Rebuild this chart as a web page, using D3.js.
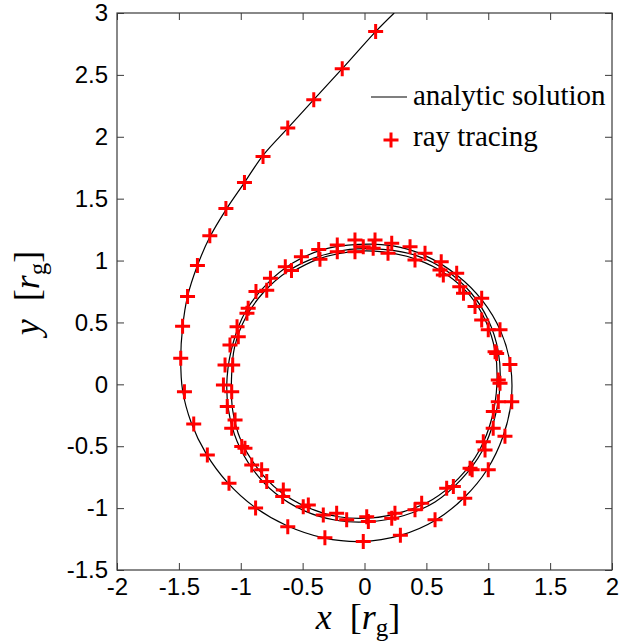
<!DOCTYPE html>
<html><head><meta charset="utf-8">
<script src="https://cdn.jsdelivr.net/npm/d3@7"></script>
<style>body{margin:0;background:#fff}</style>
</head><body>
<svg id="c" width="625" height="644"></svg>
<script>
const xTicks = [-2,-1.5,-1,-0.5,0,0.5,1,1.5,2];
const yTicks = [-1.5,-1,-0.5,0,0.5,1,1.5,2,2.5,3];
const xTickLabels = ["-2","-1.5","-1","-0.5","0","0.5","1","1.5","2"];
const yTickLabels = ["-1.5","-1","-0.5","0","0.5","1","1.5","2","2.5","3"];
const seriesNames = ["analytic solution","ray tracing"];

// analytic solution
const analyticX = [0.24,0.09,-0.18,-0.41,-0.62,-0.82,-0.97,-1.12,-1.25,-1.35,-1.43,-1.47,-1.485,-1.47,-1.40,-1.28,-1.11,-0.89,-0.63,-0.33,-0.02,0.29,0.57,0.81,0.99,1.12,1.185,1.18,1.10,0.95,0.75,0.49,0.22,-0.05,-0.33,-0.58,-0.79,-0.96,-1.06,-1.11,-1.10,-1.03,-0.90,-0.72,-0.49,-0.22,0.05,0.32,0.57,0.78,0.95,1.05,1.095,1.08,1.00,0.86,0.66,0.42,0.15,-0.12,-0.38,-0.61,-0.81,-0.96,-1.05,-1.075,-1.065,-1.00,-0.87,-0.69,-0.47,-0.21,0.05,0.31,0.55,0.76,0.93,1.03,1.07,1.055,0.98,0.85,0.66,0.42,0.15,-0.12,-0.38,-0.60];
const analyticY = [3.0,2.85,2.55,2.30,2.07,1.85,1.63,1.41,1.19,0.96,0.71,0.46,0.21,-0.05,-0.31,-0.56,-0.79,-0.99,-1.14,-1.24,-1.27,-1.22,-1.10,-0.91,-0.69,-0.42,-0.14,0.15,0.43,0.68,0.88,1.04,1.12,1.13,1.09,0.98,0.81,0.59,0.34,0.06,-0.20,-0.46,-0.69,-0.88,-1.02,-1.10,-1.11,-1.06,-0.95,-0.77,-0.54,-0.28,-0.01,0.27,0.52,0.74,0.92,1.04,1.09,1.09,1.03,0.92,0.75,0.54,0.30,0.04,-0.21,-0.45,-0.67,-0.86,-0.99,-1.07,-1.08,-1.03,-0.93,-0.76,-0.53,-0.27,0.0,0.27,0.51,0.72,0.89,1.01,1.07,1.07,1.01,0.90];

// ray tracing samples
const rayX = [0.09,-0.18,-0.41,-0.62,-0.82,-0.97,-1.12,-1.25,-1.35,-1.43,-1.47,-1.485,-1.455,-1.38,-1.27,-1.095,-0.88,-0.62,-0.32,-0.01,0.29,0.57,0.81,1.00,1.135,1.19,1.175,1.095,0.947,0.745,0.489,0.22,
  0.085,-0.077,-0.22,-0.37,-0.51,0.07,-0.01,0.368,-0.077,-0.22,0.19,0.408,-0.36,
  0.62,0.61,0.637,0.77,0.80,0.893,0.947,1.0,1.055,1.068,1.081,1.095,1.081,1.041,1.04,
  -0.64,-0.59,-0.76,-0.79,-0.877,-0.94,-0.95,-1.03,-1.02,-1.087,-1.127,-1.065,-1.14,-1.073,-1.109,-1.046,-1.073,
  -0.992,-0.966,-0.911,-0.831,-0.79,-0.656,-0.661,-0.495,-0.454,-0.333,-0.225,-0.144,0.018,0.031,
  0.22,0.246,0.408,0.462,0.664,0.718,0.853,0.87,0.974,0.96];
const rayY = [2.85,2.55,2.30,2.07,1.84,1.63,1.42,1.20,0.96,0.71,0.47,0.21,-0.06,-0.32,-0.57,-0.80,-1.00,-1.15,-1.24,-1.27,-1.22,-1.095,-0.92,-0.69,-0.42,-0.14,0.16,0.44,0.695,0.897,1.059,1.14,
  1.166,1.166,1.126,1.09,1.03,1.10,1.112,1.112,1.072,1.072,1.06,1.005,1.01,
  0.99,0.924,0.884,0.789,0.736,0.628,0.52,0.44,0.264,0.25,0.035,0.009,-0.14,-0.22,-0.355,
  0.95,0.92,0.857,0.76,0.75,0.615,0.574,0.466,0.385,0.318,0.157,0.157,-0.005,-0.059,-0.18,-0.288,-0.355,
  -0.503,-0.516,-0.651,-0.691,-0.786,-0.853,-0.907,-0.988,-0.974,-1.055,-1.041,-1.095,-1.069,-1.109,
  -1.082,-1.041,-1.014,-0.96,-0.839,-0.826,-0.678,-0.69,-0.53,-0.463];

const svg = d3.select("#c");
const L = 117, R = 612, T = 13, B = 570;
const x = d3.scaleLinear().domain([-2, 2]).range([L, R]);
const y = d3.scaleLinear().domain([-1.5, 3]).range([B, T]);
const axisColor = "#3a3a3a";
const tickFont = "'Liberation Sans', Arial, Helvetica, sans-serif";
const serif = "'Liberation Serif', 'Times New Roman', serif";

function styleAxis(g) {
  g.select(".domain").remove();
  g.selectAll(".tick line").attr("stroke", axisColor).attr("stroke-width", 1);
  g.selectAll(".tick text").attr("fill", "#000").style("font-family", tickFont).style("font-size", "24px");
}
svg.append("g").attr("transform", `translate(0,${B})`)
  .call(d3.axisBottom(x).tickValues(xTicks).tickSize(-7).tickPadding(8).tickFormat((d,i) => xTickLabels[i]))
  .call(styleAxis);
svg.append("g").attr("transform", `translate(0,${T})`)
  .call(d3.axisTop(x).tickValues(xTicks).tickSize(-7).tickFormat(""))
  .call(styleAxis);
svg.append("g").attr("transform", `translate(${L},0)`)
  .call(d3.axisLeft(y).tickValues(yTicks).tickSize(-7).tickPadding(9).tickFormat((d,i) => yTickLabels[i]))
  .call(styleAxis);
svg.append("g").attr("transform", `translate(${R},0)`)
  .call(d3.axisRight(y).tickValues(yTicks).tickSize(-7).tickFormat(""))
  .call(styleAxis);

svg.append("rect").attr("x", L).attr("y", T).attr("width", R - L).attr("height", B - T)
  .attr("fill", "none").attr("stroke", axisColor).attr("stroke-width", 1.2);

svg.append("clipPath").attr("id", "pc").append("rect")
  .attr("x", L).attr("y", T).attr("width", R - L).attr("height", B - T);

const pts = analyticX.map((v, i) => [v, analyticY[i]]);
svg.append("path").attr("clip-path", "url(#pc)")
  .attr("d", d3.line().x(d => x(d[0])).y(d => y(d[1])).curve(d3.curveCatmullRom.alpha(0.5))(pts))
  .attr("fill", "none").attr("stroke", "#000").attr("stroke-width", 1.2);

const plus = "M-7.5,0H7.5M0,-7.5V7.5";
svg.append("g").selectAll("path").data(rayX.map((v, i) => [v, rayY[i]])).join("path")
  .attr("transform", d => `translate(${x(d[0])},${y(d[1])})`)
  .attr("d", plus).attr("stroke", "#ff0000").attr("stroke-width", 3).attr("fill", "none");

// legend
const lg = svg.append("g");
lg.append("line").attr("x1", 371).attr("x2", 407).attr("y1", 97).attr("y2", 97).attr("stroke", "#000").attr("stroke-width", 1.2);
lg.append("text").attr("x", 413).attr("y", 105).text(seriesNames[0])
  .style("font-family", serif).style("font-size", "29px");
lg.append("path").attr("transform", "translate(391,140)").attr("d", plus).attr("stroke", "#ff0000").attr("stroke-width", 3);
lg.append("text").attr("x", 413).attr("y", 146).text(seriesNames[1])
  .style("font-family", serif).style("font-size", "29px");

// axis labels
const xl = svg.append("text").attr("x", 358).attr("y", 629).attr("text-anchor", "middle")
  .style("font-family", serif).style("font-size", "36px");
xl.append("tspan").attr("font-style", "italic").text("x");
xl.append("tspan").text("\u2002[");
xl.append("tspan").attr("font-style", "italic").text("r");
xl.append("tspan").attr("font-size", "25px").attr("dy", 7).text("g");
xl.append("tspan").attr("dy", -7).text("]");

const yl = svg.append("text").attr("transform", "translate(39,293) rotate(-90)").attr("text-anchor", "middle")
  .style("font-family", serif).style("font-size", "36px");
yl.append("tspan").attr("font-style", "italic").text("y");
yl.append("tspan").text("\u2002[");
yl.append("tspan").attr("font-style", "italic").text("r");
yl.append("tspan").attr("font-size", "25px").attr("dy", 7).text("g");
yl.append("tspan").attr("dy", -7).text("]");
</script>
</body></html>
